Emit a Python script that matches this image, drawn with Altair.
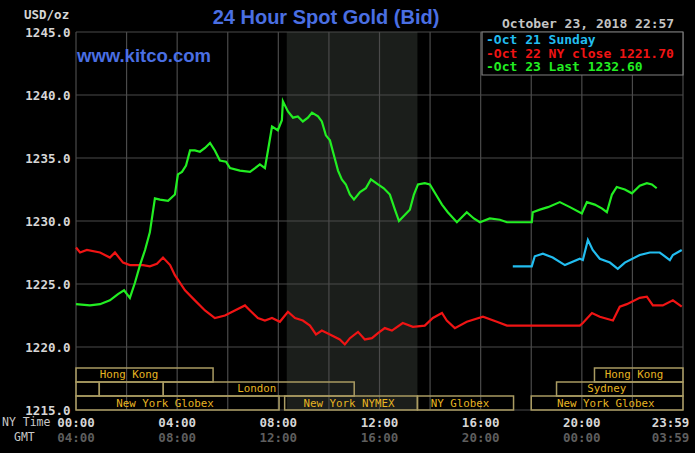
import altair as alt
import pandas as pd

# ---------------- data ----------------
green_h = [0.00, 0.55, 0.95, 1.34, 1.66, 1.90, 2.13, 2.33, 2.53, 2.73, 2.92, 3.12, 3.32, 3.64, 3.91, 4.03,
           4.19, 4.35, 4.51, 4.70, 4.90, 5.10, 5.30, 5.49, 5.69, 5.93, 6.09, 6.48, 6.88, 7.08, 7.27, 7.47,
           7.59, 7.75, 7.98, 8.14, 8.18, 8.38, 8.58, 8.77, 8.97, 9.17, 9.33, 9.57, 9.72, 9.88, 10.04, 10.20,
           10.36, 10.51, 10.67, 10.83, 10.99, 11.23, 11.46, 11.66, 11.94, 12.17, 12.41, 12.61, 12.77, 12.96,
           13.20, 13.36, 13.52, 13.79, 13.99, 14.23, 14.47, 14.70, 15.06, 15.45, 15.73, 15.97, 16.36, 16.76,
           17.04, 18.02, 18.06, 18.34, 18.66, 19.13, 19.53, 20.00, 20.20, 20.51, 20.79, 20.99, 21.19, 21.38,
           21.70, 21.98, 22.29, 22.57, 22.77, 22.96]
green_p = [1223.4, 1223.3, 1223.4, 1223.7, 1224.2, 1224.5, 1223.9, 1225.1, 1226.5, 1227.7, 1229.1, 1231.8,
           1231.7, 1231.6, 1232.1, 1233.7, 1233.9, 1234.4, 1235.6, 1235.6, 1235.5, 1235.8, 1236.2, 1235.6,
           1234.8, 1234.7, 1234.2, 1234.0, 1233.9, 1234.2, 1234.5, 1234.2, 1235.6, 1237.5, 1237.2, 1238.0,
           1239.5, 1238.7, 1238.2, 1238.3, 1237.9, 1238.2, 1238.6, 1238.3, 1237.9, 1236.8, 1236.4, 1235.2,
           1234.0, 1233.3, 1232.9, 1232.1, 1231.7, 1232.3, 1232.6, 1233.3, 1232.9, 1232.6, 1232.1, 1230.9,
           1230.0, 1230.4, 1230.9, 1232.1, 1232.9, 1233.0, 1232.9, 1232.1, 1231.3, 1230.7, 1229.9, 1230.7,
           1230.2, 1229.9, 1230.2, 1230.1, 1229.9, 1229.9, 1230.7, 1230.9, 1231.1, 1231.5, 1231.1, 1230.6,
           1231.5, 1231.3, 1231.0, 1230.7, 1232.1, 1232.7, 1232.5, 1232.2, 1232.8, 1233.0, 1232.9, 1232.6]

cyan_h = [17.27, 18.02, 18.14, 18.46, 18.85, 19.33, 19.92, 20.04, 20.24, 20.43, 20.71, 21.11, 21.42, 21.70,
          22.29, 22.69, 23.08, 23.48, 23.60, 23.95]
cyan_p = [1226.4, 1226.4, 1227.2, 1227.4, 1227.1, 1226.5, 1227.0, 1226.9, 1228.5, 1227.7, 1227.0, 1226.7,
          1226.2, 1226.7, 1227.3, 1227.5, 1227.5, 1226.9, 1227.3, 1227.7]

red_h = [0.00, 0.16, 0.43, 0.95, 1.34, 1.54, 1.86, 2.13, 2.65, 2.92, 3.20, 3.44, 3.72, 3.91, 4.31, 4.70,
         5.10, 5.49, 5.89, 6.28, 6.68, 6.88, 7.19, 7.47, 7.75, 8.06, 8.38, 8.66, 8.97, 9.25, 9.49, 9.72,
         10.04, 10.43, 10.63, 10.83, 11.15, 11.42, 11.70, 11.94, 12.21, 12.49, 12.92, 13.32, 13.79, 14.11,
         14.47, 14.66, 14.98, 15.45, 16.09, 16.64, 17.04, 18.54, 19.92, 20.04, 20.40, 20.71, 21.23, 21.50,
         21.78, 22.29, 22.57, 22.81, 23.20, 23.60, 23.95]
red_p = [1227.9, 1227.5, 1227.7, 1227.5, 1227.1, 1227.5, 1226.7, 1226.5, 1226.5, 1226.4, 1226.6, 1227.1,
         1226.5, 1225.7, 1224.5, 1223.7, 1222.9, 1222.3, 1222.5, 1222.9, 1223.3, 1222.9, 1222.3, 1222.1,
         1222.3, 1222.0, 1222.8, 1222.3, 1222.1, 1221.7, 1221.0, 1221.3, 1221.0, 1220.6, 1220.2, 1220.7,
         1221.2, 1220.6, 1220.7, 1221.1, 1221.5, 1221.3, 1221.9, 1221.6, 1221.7, 1222.3, 1222.7, 1222.1,
         1221.5, 1222.0, 1222.4, 1222.0, 1221.7, 1221.7, 1221.7, 1221.9, 1222.7, 1222.4, 1222.1, 1223.2,
         1223.4, 1223.9, 1224.0, 1223.3, 1223.3, 1223.7, 1223.2]

series_names = ["Oct 21", "Oct 22", "Oct 23"]
series_colors = ["#22bdf0", "#f01414", "#22ee22"]
legend_texts = ["-Oct 21 Sunday", "-Oct 22 NY close 1221.70", "-Oct 23 Last 1232.60"]

y_ticks = [1215, 1220, 1225, 1230, 1235, 1240, 1245]
x_grid = [0, 2, 4, 6, 8, 10, 12, 14, 16, 18, 20, 22, 24]

time_h = [0, 4, 8, 12, 16, 20]
ny_labels = ["00:00", "04:00", "08:00", "12:00", "16:00", "20:00"]
gmt_labels = ["04:00", "08:00", "12:00", "16:00", "20:00", "00:00"]
end_h = [23.983]
end_ny = ["23:59"]
end_gmt = ["03:59"]

nymex_start = [8.333]
nymex_end = [13.5]

# session boxes: row 1, 2, 3
row1_start = [0.0, 20.5]
row1_end = [5.42, 24.0]
row2_start = [0.0, 0.92, 3.45, 19.0]
row2_end = [0.92, 3.45, 11.0, 24.0]
row3_start = [0.0, 8.25, 13.5, 18.0]
row3_end = [8.03, 13.5, 17.3, 24.0]

row1_lab_h = [2.1, 22.06]
row1_lab = ["Hong Kong", "Hong Kong"]
row2_lab_h = [7.15, 20.99]
row2_lab = ["London", "Sydney"]
row3_lab_h = [3.52, 10.79, 15.18, 20.95]
row3_lab = ["New York Globex", "New York NYMEX", "NY Globex", "New York Globex"]

# ---------------- frames ----------------
lines_df = pd.concat([
    pd.DataFrame({"h": cyan_h, "p": cyan_p, "s": series_names[0]}),
    pd.DataFrame({"h": red_h, "p": red_p, "s": series_names[1]}),
    pd.DataFrame({"h": green_h, "p": green_p, "s": series_names[2]}),
])

W, H = 607, 378
MONO = "DejaVu Sans Mono"
GRID = "#4a4a4a"
BOX = "#a99b62"
BOXTXT = "#e6b422"

xs = alt.Scale(domain=[0, 24], nice=False, zero=False)
ys = alt.Scale(domain=[1215, 1245], nice=False, zero=False)

shade = alt.Chart(pd.DataFrame({"a": nymex_start, "b": nymex_end})).mark_rect(
    color="#1b1e1b").encode(
    x=alt.X("a:Q", scale=xs, axis=None), x2="b:Q",
    y=alt.value(0), y2=alt.value(H))

hgrid = alt.Chart(pd.DataFrame({"p": y_ticks})).mark_rule(color=GRID, strokeWidth=1.2).encode(
    y=alt.Y("p:Q", scale=ys, title=None,
            axis=alt.Axis(values=y_ticks, labelExpr="format(datum.value, '.1f')",
                          labelFont=MONO, labelFontSize=12.5, labelFontWeight="bold",
                          labelColor="#d6d6d6", labelPadding=6, ticks=False, domain=False,
                          grid=False)),
    x=alt.value(0), x2=alt.value(W))

vgrid = alt.Chart(pd.DataFrame({"h": x_grid})).mark_rule(color=GRID, strokeWidth=1.2).encode(
    x=alt.X("h:Q", scale=xs, axis=None), y=alt.value(0), y2=alt.value(H))


def box_layer(starts, ends, top, bottom):
    return alt.Chart(pd.DataFrame({"a": starts, "b": ends})).mark_rect(
        fillOpacity=0, stroke=BOX, strokeWidth=1.5).encode(
        x=alt.X("a:Q", scale=xs, axis=None), x2="b:Q",
        y=alt.value(top), y2=alt.value(bottom))


def lab_layer(hs, labs, yc):
    return alt.Chart(pd.DataFrame({"h": hs, "t": labs})).mark_text(
        font=MONO, fontSize=10.8, color=BOXTXT, align="center", baseline="middle").encode(
        x=alt.X("h:Q", scale=xs, axis=None), y=alt.value(yc), text="t:N")


boxes = [
    box_layer(row1_start, row1_end, 336, 350),
    box_layer(row2_start, row2_end, 350, 364),
    box_layer(row3_start, row3_end, 364, 378),
    lab_layer(row1_lab_h, row1_lab, 343),
    lab_layer(row2_lab_h, row2_lab, 357),
    lab_layer(row3_lab_h, row3_lab, 371.5),
]

lines = alt.Chart(lines_df).mark_line(strokeWidth=2.2, interpolate="linear").encode(
    x=alt.X("h:Q", scale=xs, axis=None),
    y=alt.Y("p:Q", scale=ys),
    color=alt.Color("s:N", scale=alt.Scale(domain=series_names, range=series_colors), legend=None))

legend_box = alt.Chart(pd.DataFrame({"k": [0]})).mark_rect(
    fill="black", stroke="#808080", strokeWidth=1.2).encode(
    x=alt.value(406), x2=alt.value(W), y=alt.value(0), y2=alt.value(43))

legend_layers = []
for txt, col, yy in zip(legend_texts, series_colors, [8, 21.5, 35]):
    legend_layers.append(
        alt.Chart(pd.DataFrame({"t": [txt]})).mark_text(
            font=MONO, fontSize=13, fontWeight="bold", color=col, align="left", baseline="middle").encode(
            x=alt.value(410), y=alt.value(yy), text="t:N"))


def time_row(hs, labs, yy, col, weight, dx=0):
    return alt.Chart(pd.DataFrame({"h": hs, "t": labs})).mark_text(
        font=MONO, fontSize=12.5, fontWeight=weight, color=col, align="center",
        baseline="middle", dx=dx).encode(
        x=alt.X("h:Q", scale=xs, axis=None), y=alt.value(yy), text="t:N")


times = [
    time_row(time_h, ny_labels, 391, "#d6d6d6", "bold"),
    time_row(time_h, gmt_labels, 406, "#5e5e5e", "bold"),
    time_row(end_h, end_ny, 391, "#d6d6d6", "bold", dx=-12),
    time_row(end_h, end_gmt, 406, "#5e5e5e", "bold", dx=-12),
]


def free_text(txt, x, y, size, col, font=MONO, weight="normal", align="left"):
    return alt.Chart(pd.DataFrame({"t": [txt]})).mark_text(
        font=font, fontSize=size, fontWeight=weight, color=col, align=align,
        baseline="middle").encode(x=alt.value(x), y=alt.value(y), text="t:N")


texts = [
    free_text("USD/oz", -52, -17, 12.5, "#d6d6d6", weight="bold"),
    free_text("24 Hour Spot Gold (Bid)", 250, -14, 20, "#4a6fe3", font="Liberation Sans",
              weight="bold", align="center"),
    free_text("October 23, 2018 22:57", 426, -8, 13, "#c4c4c4", weight="bold"),
    free_text("www.kitco.com", 1, 24, 18.5, "#4a6fe3", font="Liberation Sans", weight="bold"),
    free_text("NY Time", -74, 391, 11.5, "#c8c8c8"),
    free_text("GMT", -62, 406, 11.5, "#c8c8c8"),
]

chart = alt.layer(
    shade, vgrid, hgrid, *boxes, lines, legend_box, *legend_layers, *times, *texts
).properties(
    width=W, height=H,
    padding={"left": 76, "top": 32, "right": 12, "bottom": 43},
    autosize="none",
    background="black",
).configure_view(stroke=None, fill="black")

chart.save("out.html", embed_options={"renderer": "svg", "actions": False})
